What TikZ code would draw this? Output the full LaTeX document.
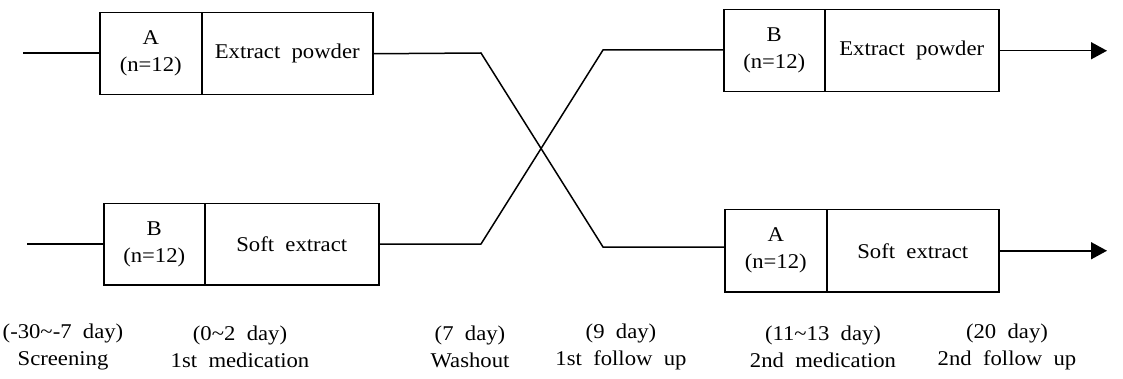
\documentclass[tikz,border=0pt]{standalone}
\usepackage{fontspec}
\setmainfont{Liberation Serif}[FakeStretch=1.08]
\usetikzlibrary{arrows.meta}
\tikzset{
  cell/.style={draw, line width=1.5pt, inner sep=0pt, anchor=north west,
    align=center, font=\fontsize{21}{27}\selectfont},
  link/.style={line width=1.5pt},
  arm/.style={link, -{Triangle[length=16pt,width=17pt]}},
  stage/.style={align=center, font=\fontsize{21}{27}\selectfont}
}
\begin{document}
\begin{tikzpicture}[x=1pt,y=-1pt]
\useasboundingbox (0,0) rectangle (1123,379);
% first period
\node[cell, minimum width=102pt, minimum height=82pt] (p1al) at (99,12) {A\\(n=12)};
\node[cell, minimum width=171pt, minimum height=82pt] (p1ar) at (201,12) {Extract\ \ powder};
\node[cell, minimum width=101pt, minimum height=81pt] (p1bl) at (103,203) {B\\(n=12)};
\node[cell, minimum width=174pt, minimum height=81pt] (p1br) at (204,203) {Soft\ \ extract};
% second period
\node[cell, minimum width=101pt, minimum height=82pt] (p2bl) at (723,9) {B\\(n=12)};
\node[cell, minimum width=174pt, minimum height=82pt] (p2br) at (824,9) {Extract\ \ powder};
\node[cell, minimum width=102pt, minimum height=82pt] (p2al) at (724,209) {A\\(n=12)};
\node[cell, minimum width=172pt, minimum height=82pt] (p2ar) at (826,209) {Soft\ \ extract};
% entry points, crossover bends and arrow ends
\coordinate (inA) at (23,53);
\coordinate (inB) at (27,244);
\coordinate (xa1) at (481,53);
\coordinate (xa2) at (603,247);
\coordinate (xb1) at (481,244);
\coordinate (xb2) at (603,50);
\coordinate (endB) at (1107,50);
\coordinate (endA) at (1107,250);
% connectors
\draw[link] (inA) -- (inA -| p1al.west);
\draw[link] (inB) -- (inB -| p1bl.west);
\draw[link] (p1ar.east) -- (xa1) -- (xa2) -- (xa2 -| p2al.west);
\draw[link] (p1br.east) -- (xb1) -- (xb2) -- (xb2 -| p2bl.west);
\draw[arm] (p2br.east) -- (p2br.east -| endB);
\draw[arm] (p2ar.east) -- (p2ar.east -| endA);
% timeline
\node[stage] (s1) at (63,347) {(-30\textasciitilde-7\ \ day)\\Screening};
\node[stage] (s2) at (240,347) {(0\textasciitilde2\ \ day)\\1st\ \ medication};
\node[stage] (s3) at (470,347) {(7\ \ day)\\Washout};
\node[stage] (s4) at (621,347) {(9\ \ day)\\1st\ \ follow\ \ up};
\node[stage] (s5) at (823,347) {(11\textasciitilde13\ \ day)\\2nd\ \ medication};
\node[stage] (s6) at (1007,347) {(20\ \ day)\\2nd\ \ follow\ \ up};
\end{tikzpicture}
\end{document}
